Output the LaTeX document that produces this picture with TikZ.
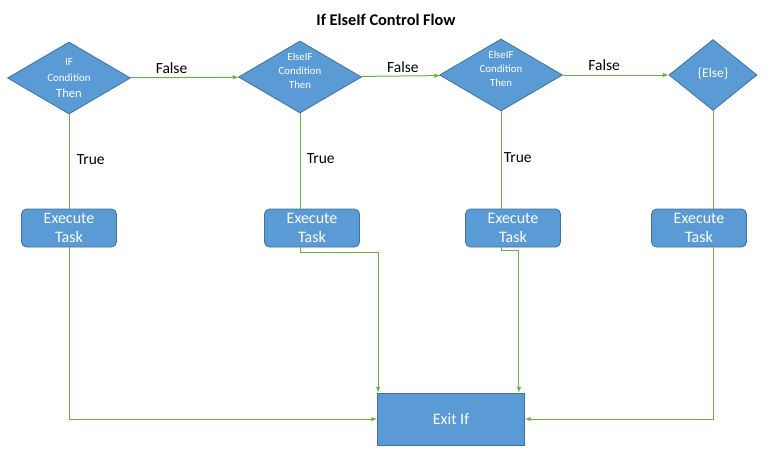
\documentclass[tikz,border=0pt]{standalone}
\usepackage{fontspec}
\setmainfont{Carlito}
\usetikzlibrary{shapes.geometric}

\definecolor{boxblue}{HTML}{5B9BD5}
\definecolor{boxedge}{HTML}{41719C}
\definecolor{flowgreen}{HTML}{70AD47}

\begin{document}
\begin{tikzpicture}[x=1pt, y=-1pt, node distance=150pt, >=latex,
    decision/.style={diamond, draw=boxedge, fill=boxblue, line width=0.8pt, aspect=1.7, inner sep=0pt, minimum width=123pt, minimum height=72pt},
    cond/.style={text=white, align=center, font=\fontsize{10.8}{14}\selectfont},
    task/.style={rectangle, rounded corners=5pt, draw=boxedge, fill=boxblue, line width=0.8pt, text=white, align=center, inner sep=0pt, minimum width=95pt, minimum height=38pt, font=\fontsize{16}{19.5}\selectfont},
    endbox/.style={task, rounded corners=0pt, minimum width=147pt, minimum height=52pt},
    flow/.style={draw=flowgreen, line width=1pt},
    lbl/.style={font=\fontsize{15.5}{18}\selectfont}]
        \useasboundingbox (0,0) rectangle (775,456);
        \node (title) at (386,20) {\fontsize{16.3}{19}\selectfont\bfseries If ElseIf Control Flow};
        % conditions
        \node (cond1) [decision, label={[cond, font=\fontsize{11}{16}\selectfont]center:IF\\Condition\\\fontsize{12.6}{16}\selectfont Then}] at (69,78) {};
        \node (cond2) [decision, right of=cond1, xshift=81pt, yshift=1pt, label={[cond, yshift=6pt]center:ElseIF\\Condition\\Then}] {};
        \node (cond3) [decision, right of=cond2, xshift=51pt, yshift=2pt, label={[cond, yshift=6.5pt]center:ElseIF\\Condition\\Then}] {};
        \node (cond4) [decision, right of=cond3, xshift=62pt, minimum width=88pt, minimum height=71pt, label={[cond, font=\fontsize{13.5}{16}\selectfont, yshift=1pt]center:\{Else\}}] {};
        % tasks
        \node (task1) [task, below of=cond1] {Execute\\Task};
        \node (task2) [task, below of=cond2, xshift=12pt, yshift=-1pt] {Execute\\Task};
        \node (task3) [task, below of=cond3, xshift=12pt, yshift=-3pt] {Execute\\Task};
        \node (task4) [task, below of=cond4, xshift=-14pt, yshift=-3pt] {Execute\\Task};
        \node (exit) [endbox, below of=task2, xshift=139pt, yshift=-41pt] {Exit If};
        % false branch
        \draw[flow, ->] (cond1) -- node[lbl, above, pos=0.38] {False} (cond2);
        \draw[flow, ->] (cond2) -- node[lbl, above, pos=0.53] {False} (cond3);
        \draw[flow, ->] (cond3) -- node[lbl, above, pos=0.39, yshift=1pt] {False} (cond4);
        % true branch
        \draw[flow] (cond1) -- node[lbl, right, xshift=4pt, yshift=2pt] {True} (task1);
        \draw[flow] (cond2) -- node[lbl, right, xshift=3pt, yshift=2pt] {True} (cond2 |- task2.north);
        \draw[flow] (cond3) -- node[lbl, right, xshift=-1pt, yshift=2pt] {True} (cond3 |- task3.north);
        \draw[flow] (cond4) -- (cond4 |- task4.north);
        % to exit
        \draw[flow, ->] (task1) |- (exit);
        \draw[flow, ->] (cond2 |- task2.south) -- ++(0pt,-5pt) -| ([xshift=1pt]exit.north west);
        \draw[flow, ->] (cond3 |- task3.south) -- ++(0pt,-3pt) -| ([xshift=-6pt]exit.north east);
        \draw[flow, ->] (cond4 |- task4.south) |- (exit);
    \end{tikzpicture}
\end{document}
